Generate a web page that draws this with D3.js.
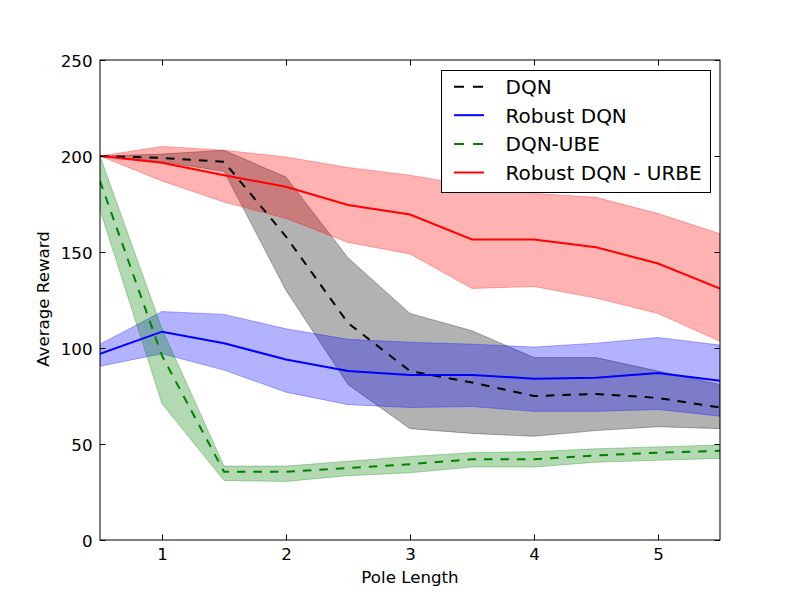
<!DOCTYPE html>
<html>
<head>
<meta charset="utf-8">
<script src="https://cdn.jsdelivr.net/npm/d3@7"></script>
<style>
  body { margin: 0; background: #fff; }
  text { font-family: "DejaVu Sans", sans-serif; fill: #000; }
</style>
</head>
<body>
<svg id="chart" width="800" height="600"></svg>
<script>
// ---- data ----
const poleLength = [0.5, 1, 1.5, 2, 2.5, 3, 3.5, 4, 4.5, 5, 5.5];

const dqnMean  = [200, 199, 197, 158, 113, 88, 82, 75, 76, 74, 69];
const dqnUpper = [200, 201, 203, 189, 147, 118, 109, 95, 95, 88, 81];
const dqnLower = [200, 197, 192, 130, 81, 58, 55.5, 54, 57, 59, 58];

const robustMean  = [97, 108.5, 102.5, 94, 88, 86, 86, 84, 84.5, 87, 83];
const robustUpper = [102, 119, 117.5, 110, 104.5, 103, 102, 100.5, 102.5, 105.5, 101.5];
const robustLower = [90.5, 97, 88.5, 77, 70.5, 69, 69.5, 67, 67, 68, 64.5];

const ubeMean  = [187, 96, 35.5, 35.5, 37.5, 39.5, 42, 42, 44, 45.5, 46.5];
const ubeUpper = [200, 110, 38.5, 38.5, 41, 43.5, 45.5, 46, 47.5, 48.5, 49.5];
const ubeLower = [172, 71, 31, 30.5, 33.5, 35, 38, 38, 40.5, 41.5, 42.5];

const urbeMean  = [200, 196.5, 190, 184, 174.5, 169.5, 156.5, 156.5, 152.5, 144, 131];
const urbeUpper = [200, 205, 203, 199.5, 194, 190, 184.5, 180.5, 178.5, 170, 159.5];
const urbeLower = [200, 187, 176, 167.5, 155, 149, 131, 132, 126, 118, 103.5];

const seriesNames = ["DQN", "Robust DQN", "DQN-UBE", "Robust DQN - URBE"];
const xTicks = [1, 2, 3, 4, 5];
const yTicks = [0, 50, 100, 150, 200, 250];

const series = [
  { name: seriesNames[0], color: "#000000", dash: "8.5,8", mean: dqnMean, lo: dqnLower, hi: dqnUpper },
  { name: seriesNames[1], color: "#0000ff", dash: null, mean: robustMean, lo: robustLower, hi: robustUpper },
  { name: seriesNames[2], color: "#008000", dash: "8.5,8", mean: ubeMean, lo: ubeLower, hi: ubeUpper },
  { name: seriesNames[3], color: "#ff0000", dash: null, mean: urbeMean, lo: urbeLower, hi: urbeUpper }
];

// ---- layout ----
const L = 100, R = 720, T = 60, B = 540;
const svg = d3.select("#chart");
const x = d3.scaleLinear().domain([0.5, 5.5]).range([L, R]);
const y = d3.scaleLinear().domain([0, 250]).range([B, T]);

svg.append("defs").append("clipPath").attr("id", "plotclip")
  .append("rect").attr("x", L).attr("y", T).attr("width", R - L).attr("height", B - T);

const plot = svg.append("g").attr("clip-path", "url(#plotclip)");

const area = d3.area()
  .x((d, i) => x(poleLength[i]))
  .y0(d => y(d[0]))
  .y1(d => y(d[1]));
const line = d3.line()
  .x((d, i) => x(poleLength[i]))
  .y(d => y(d));

// fills first (lower z-order), then lines
series.forEach(s => {
  const pts = s.lo.map((v, i) => [v, s.hi[i]]);
  plot.append("path")
    .attr("d", area(pts))
    .attr("fill", s.color).attr("fill-opacity", 0.3)
    .attr("stroke", s.color).attr("stroke-opacity", 0.3).attr("stroke-width", 1);
});
series.forEach(s => {
  plot.append("path")
    .attr("d", line(s.mean))
    .attr("fill", "none")
    .attr("stroke", s.color).attr("stroke-width", 2)
    .attr("stroke-dasharray", s.dash);
});

// ---- axes ----
const tickLen = 5.5;
const axB = svg.append("g").attr("transform", `translate(0,${B})`)
  .call(d3.axisBottom(x).tickValues(xTicks).tickSize(-tickLen).tickPadding(0).tickFormat(d3.format("d")));
const axT = svg.append("g").attr("transform", `translate(0,${T})`)
  .call(d3.axisTop(x).tickValues(xTicks).tickSize(-tickLen).tickFormat(""));
const axL = svg.append("g").attr("transform", `translate(${L},0)`)
  .call(d3.axisLeft(y).tickValues(yTicks).tickSize(-tickLen).tickFormat(d3.format("d")));
const axR = svg.append("g").attr("transform", `translate(${R},0)`)
  .call(d3.axisRight(y).tickValues(yTicks).tickSize(-tickLen).tickFormat(""));

[axB, axT, axL, axR].forEach(a => {
  a.select(".domain").remove();
  a.selectAll(".tick line").attr("stroke", "#000").attr("stroke-width", 1);
});
axB.selectAll(".tick text")
  .attr("y", 20).attr("dy", null)
  .attr("font-size", "16.67px").attr("font-family", "DejaVu Sans");
axL.selectAll(".tick text")
  .attr("x", -7.5).attr("dy", "0.36em")
  .attr("font-size", "16.67px").attr("font-family", "DejaVu Sans");

// frame
svg.append("rect").attr("x", L).attr("y", T).attr("width", R - L).attr("height", B - T)
  .attr("fill", "none").attr("stroke", "#000").attr("stroke-width", 1);

// axis labels
svg.append("text").attr("x", 410).attr("y", 583).attr("text-anchor", "middle")
  .attr("font-size", "16.67px").text("Pole Length");
svg.append("text").attr("transform", "translate(48.5,299) rotate(-90)")
  .attr("text-anchor", "middle").attr("font-size", "16.67px").text("Average Reward");

// ---- legend ----
const lg = svg.append("g");
lg.append("rect").attr("x", 441.5).attr("y", 70.5).attr("width", 269).attr("height", 122)
  .attr("fill", "#fff").attr("stroke", "#000").attr("stroke-width", 1);
const rowY = [86.7, 115.2, 143.9, 172.5];
series.forEach((s, i) => {
  lg.append("line").attr("x1", 454).attr("x2", 484).attr("y1", rowY[i]).attr("y2", rowY[i])
    .attr("stroke", s.color).attr("stroke-width", 2)
    .attr("stroke-dasharray", s.dash ? "10,9" : null);
  lg.append("text").attr("x", 505.5).attr("y", rowY[i] + 7.3)
    .attr("font-size", "20px").text(s.name);
});
</script>
</body>
</html>
